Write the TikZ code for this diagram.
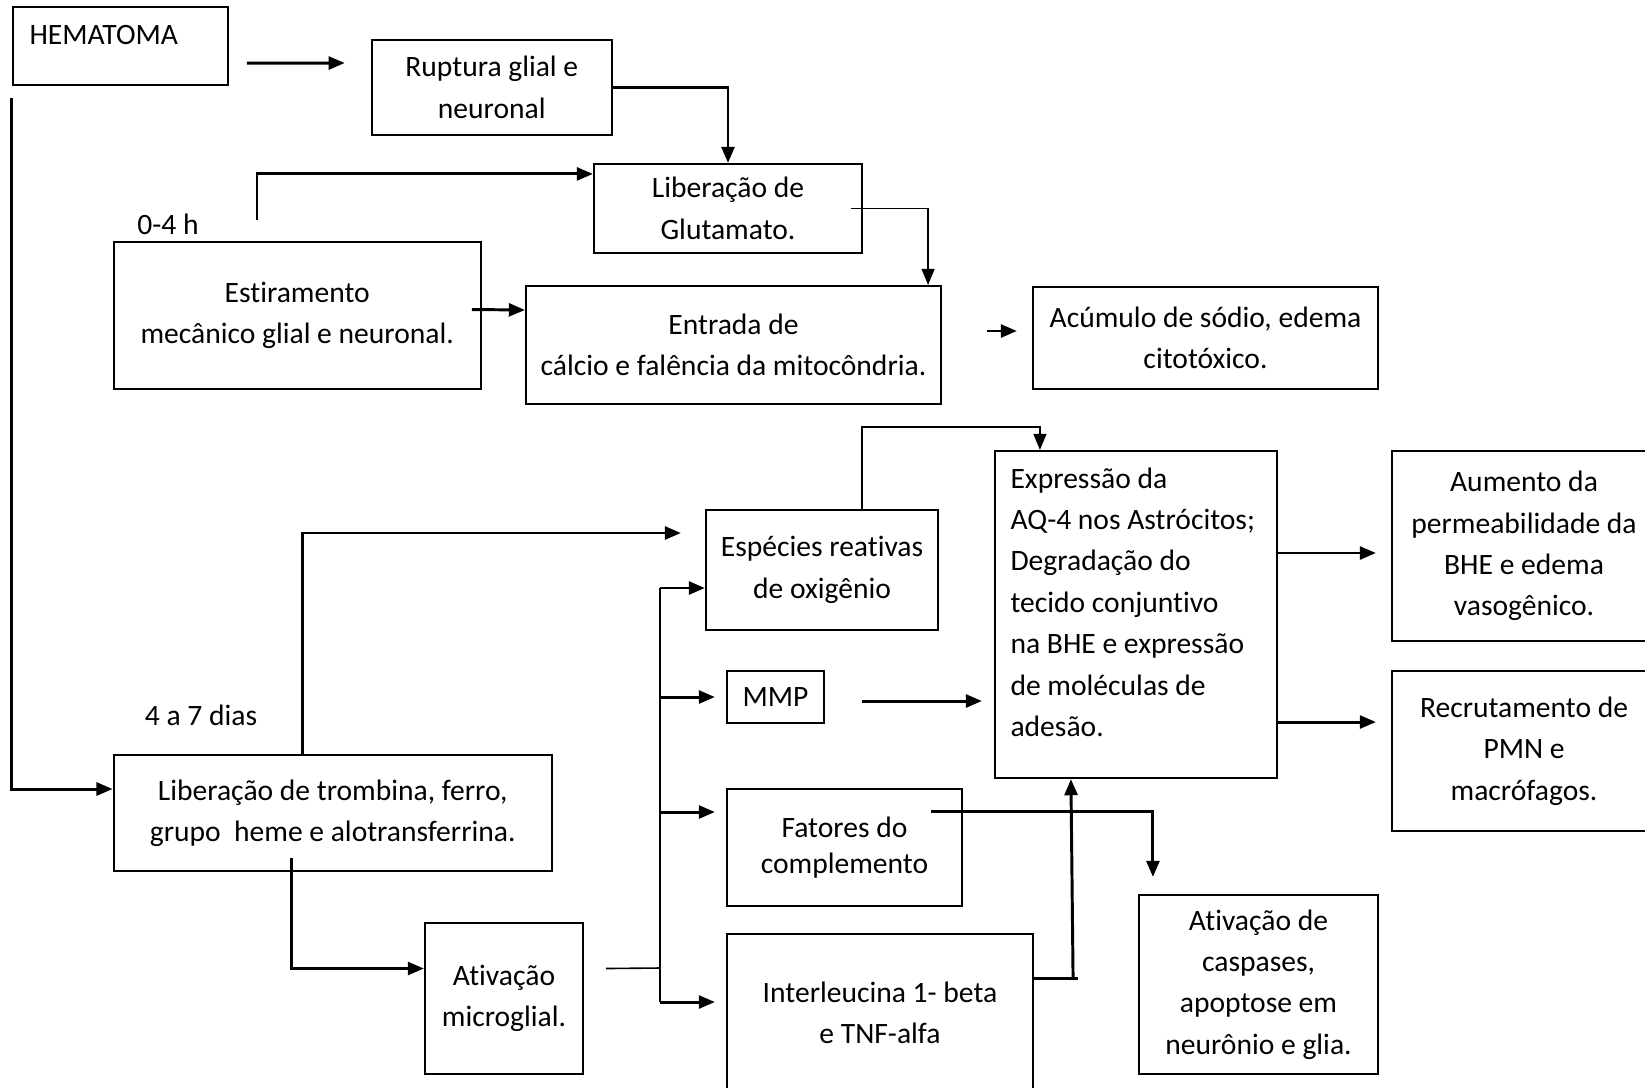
\documentclass[tikz,border=0pt]{standalone}
\usepackage{fontspec}
\setmainfont{Carlito}[Ligatures={NoCommon,NoContextual},Contextuals=NoAlternate]
\usepackage{tikz}
\usetikzlibrary{arrows.meta,calc,positioning}

\begin{document}
\begin{tikzpicture}[x=0.372pt,y=-0.372pt,
  every node/.style={font=\fontsize{11pt}{15.4pt}\selectfont},
  box/.style={draw,rectangle,line width=0.8pt,inner sep=0pt,align=center},
  sz/.style 2 args={minimum width=#1*0.372pt,minimum height=#2*0.372pt},
  arr/.style={-{Triangle[length=6pt,width=4.8pt]},line width=1.1pt},
  lnk/.style={line width=0.6pt}]
\useasboundingbox (0,0) rectangle (1645,1087);
\clip (0,0) rectangle (1645,1087);

\node (hem) at (120.3,46.2)[box,sz={215}{78}] {};
\node (hemtxt) at (29,44.5)[anchor=base west,inner sep=0pt] {HEMATOMA};
\node (rup) at (491.8,87.5)[box,sz={240}{95}] {Ruptura glial e\\neuronal};
\node (lib) at (728,208.5)[box,sz={268}{89}] {Liberação de\\Glutamato.};
\node (est) at (297.2,315.5)[box,sz={367}{147}] {Estiramento\\mecânico glial e neuronal.};
\node (ent) at (733.5,345)[box,sz={415}{118}] {Entrada de\\cálcio e falência da mitocôndria.};
\node (acu) at (1205.5,338)[box,sz={345}{102}] {Acúmulo de sódio, edema\\citotóxico.};
\node (t04) at (168,224) {0-4 h};
\node (t47) at (201,715) {4 a 7 dias};
\node (trom) at (332.7,813)[box,sz={438}{116}] {Liberação de trombina, ferro,\\grupo\ \ heme e alotransferrina.};
\node (micro) at (504,998.5)[box,sz={158}{151}] {Ativação\\microglial.};
\node (esp) at (822,570)[box,sz={232}{120}] {Espécies reativas\\de oxigênio};
\node (mmp) at (775.5,697)[box,sz={97}{52}] {MMP};
\node (fat) at (844.5,847.5)[box,sz={235}{117},font=\fontsize{11pt}{13.4pt}\selectfont] {Fatores do\\complemento};
\node (int) at (880,1013)[box,sz={306}{158}] {Interleucina 1- beta\\e TNF-alfa};
\node (expr) at (1136,614.5)[box,sz={282}{327}] {};
\node (exprtxt) at (1010,467)[anchor=north west,inner sep=0pt,align=left] {Expressão da\\AQ-4 nos Astrócitos;\\Degradação do\\tecido conjuntivo\\na BHE e expressão\\de moléculas de\\adesão.};
\node (aum) at (1524,546)[box,sz={264}{190}] {Aumento da\\permeabilidade da\\BHE e edema\\vasogênico.};
\node (rec) at (1524,751)[box,sz={264}{160}] {Recrutamento de\\PMN e\\macrófagos.};
\node (casp) at (1258.5,984.5)[box,sz={239}{179}] {Ativação de\\caspases,\\apoptose em\\neurônio e glia.};

\coordinate (c04) at (257,220);
\coordinate (bus) at (660,968);
\coordinate (busT) at (660,588);
\coordinate (busB) at (660,1002);

\draw[arr] ($(hem.east)+(18,17)$) -- ($(rup.west)+(-26,-24.5)$);
\draw[arr] (rup.east) -| (lib.north);
\draw[arr] (c04) |- ($(lib.north west)+(0,11)$);
\draw[arr] ($(est.east)+(-10,-6)$) -- ($(ent.west)+(0,-35)$);
\draw[arr,line width=0.7pt] ($(lib.east)+(-12,0)$) -| ($(ent.north east)+(-14,0)$);
\draw[arr] ($(ent.east)+(45,-14)$) -- ($(acu.west)+(-15,-7)$);
\draw[arr] ($(hem.south west)+(0,12)$) |- ($(trom.west)+(0,-24)$);
\draw[arr] ($(trom.north west)+(190,0)$) |- ($(esp.west)+(-24,-37)$);
\draw[arr] ($(trom.south west)+(179,-14)$) |- ($(micro.west)+(0,-30)$);
\draw[lnk] ($(micro.east)+(22,-30)$) -- (bus);
\draw[lnk] (busT) -- (busB);
\draw[arr] (busT) -- (busT -| esp.west);
\draw[arr] (busT |- mmp.west) -- ($(mmp.west)+(-11,0)$);
\draw[arr] ($(fat.west)+(-67,-35.5)$) -- ($(fat.west)+(-11,-35.5)$);
\draw[arr] (busB) -- ($(busB -| int.west)+(-11,0)$);
\draw[arr,line width=0.7pt] ($(esp.north)+(40,0)$) -- ++(0,-82) -| ($(expr.north west)+(46,0)$);
\draw[arr] ($(mmp.east)+(37,4)$) -- ($(mmp.east -| expr.west)+(-12,4)$);
\draw[arr] ($(expr.east |- aum.west)+(0,7)$) -- ($(aum.west)+(-15,7)$);
\draw[arr] ($(expr.east |- rec.west)+(0,-29)$) -- ($(rec.west)+(-15,-29)$);
\draw[arr] ($(fat.east)+(-32,-36.5)$) -| ($(casp.north west)+(15,-17)$);
\draw[line width=1.1pt] ($(int.north east)+(0,46)$) -- ++(44,0);
\draw[arr] ($(int.north east)+(39,46)$) -- ($(expr.south west)+(77,0)$);
\end{tikzpicture}
\end{document}
